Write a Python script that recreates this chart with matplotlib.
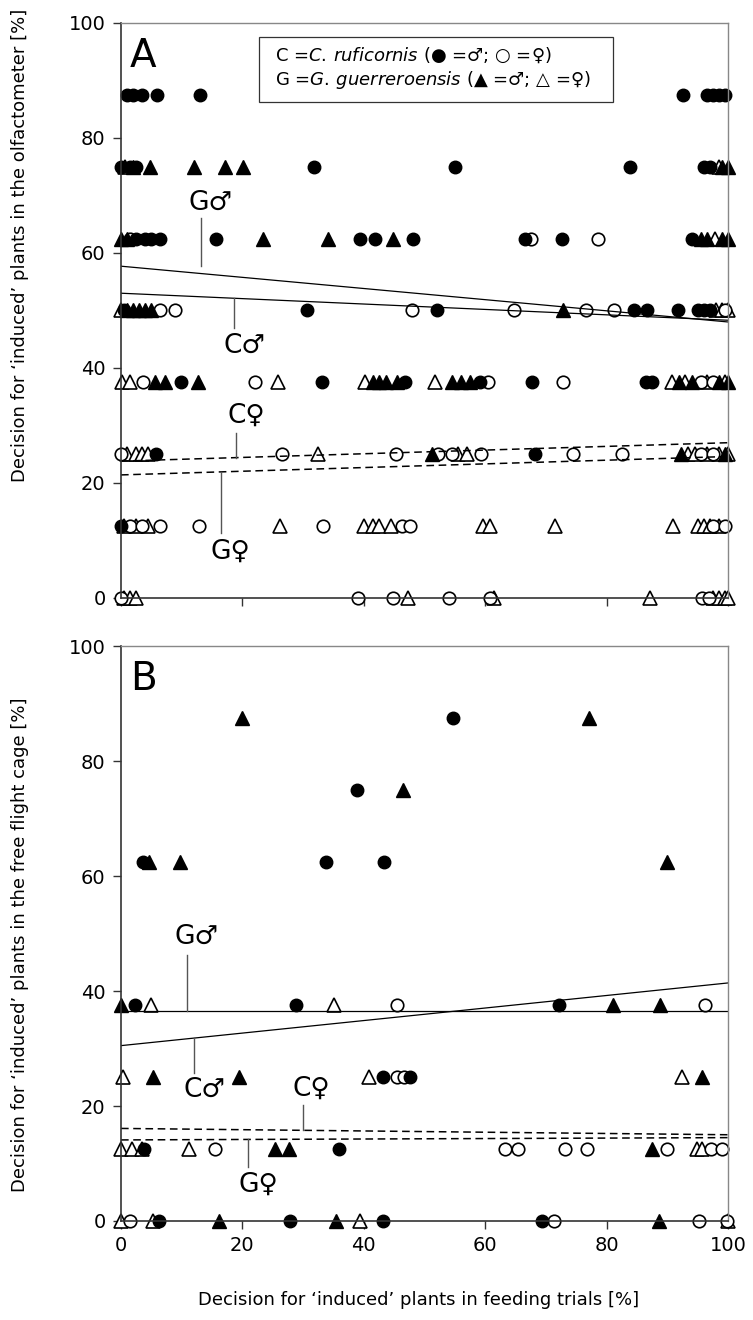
import matplotlib
matplotlib.use("Agg")
import matplotlib.pyplot as plt
from matplotlib.patches import Rectangle

# -------------------------------
# 1. Data
# -------------------------------
# Panel A: olfactometer  (x = feeding trials %, y = olfactometer %)
a_cm_x = [1, 2, 3.5, 6, 13, 92.6, 96.5, 97.5, 98.5, 99.5,
          0, 1.5, 2.5, 31.8, 55, 83.9, 96, 97,
          2.5, 4, 5, 6.5, 15.7, 39.4, 41.8, 48.1, 66.5, 72.7, 94,
          0.5, 30.6, 52, 84.5, 86.7, 91.8, 95, 96, 97,
          9.9, 33.1, 46.8, 59.1, 67.7, 86.5, 87.5,
          5.8, 68.2,
          0]
a_cm_y = [87.5] * 10 + [75] * 8 + [62.5] * 11 + [50] * 9 + [37.5] * 7 + [25] * 2 + [12.5]

a_cf_x = [1.5, 67.5, 78.6,
          6.4, 8.9, 47.9, 64.7, 76.6, 81.2, 99.5,
          3.6, 22.1, 60.5, 72.8, 95.5, 97.5,
          0, 26.5, 45.3, 52.3, 54.5, 59.3, 74.5, 82.5, 95.5, 97.5,
          1.5, 3.5, 6.4, 12.9, 33.3, 46.3, 47.6, 97.5, 99.5,
          0, 39.1, 44.8, 54.0, 60.8, 95.7, 96.8]
a_cf_y = [62.5] * 3 + [50] * 7 + [37.5] * 6 + [25] * 10 + [12.5] * 9 + [0] * 7

a_gm_x = [2, 4.8, 12.0, 17.1, 20.1, 99, 100,
          0, 1, 23.4, 34.1, 44.8, 95.5, 96.5, 99, 100,
          1, 2, 3, 4, 5, 72.8,
          5.6, 7.2, 12.7, 41.5, 42.5, 43.7, 45.5, 54.5, 56.0, 57.5, 92, 94, 98.5, 100,
          51.2, 92.2, 99.5]
a_gm_y = [75] * 7 + [62.5] * 9 + [50] * 6 + [37.5] * 14 + [25] * 3

a_gf_x = [0.7, 98.5,
          97.8,
          0, 98, 99, 100,
          0.1, 1.5, 25.9, 40.2, 51.8, 90.8, 93, 96.5, 99.5,
          1, 2.5, 3.5, 4.5, 32.5, 55.5, 57, 93.5, 94.5, 96.5, 98.5, 100,
          0.5, 2.5, 4.5, 26.2, 40, 41.5, 42.5, 44.5, 59.6, 60.8, 71.5, 90.9, 95, 96, 97, 98.5,
          0.5, 1.5, 2.5, 47.3, 61.5, 87.1, 97.5, 98.5, 99.5, 100]
a_gf_y = [75] * 2 + [62.5] + [50] * 4 + [37.5] * 9 + [25] * 12 + [12.5] * 16 + [0] * 10

# Panel B: free flight cage
b_cm_x = [54.7, 38.9, 3.6, 33.8, 43.3, 2.3, 28.8, 72.2, 43.1, 47.6, 3.8, 35.9,
          6.2, 27.9, 43.1, 69.3]
b_cm_y = [87.5, 75, 62.5, 62.5, 62.5, 37.5, 37.5, 37.5, 25, 25, 12.5, 12.5,
          0, 0, 0, 0]

b_cf_x = [45.5, 96.2, 45.5, 46.6,
          15.5, 63.2, 65.4, 73.1, 76.8, 90.0, 97.2, 99.0,
          1.4, 71.3, 95.3, 99.8]
b_cf_y = [37.5, 37.5, 25, 25] + [12.5] * 8 + [0] * 4

b_gm_x = [19.9, 77.1, 46.5, 4.6, 9.7, 90.0, 0, 81.1, 88.8, 5.2, 19.5, 95.7,
          25.4, 27.7, 87.5, 16.2, 35.5, 88.6]
b_gm_y = [87.5, 87.5, 75, 62.5, 62.5, 62.5, 37.5, 37.5, 37.5, 25, 25, 25,
          12.5, 12.5, 12.5, 0, 0, 0]

b_gf_x = [4.9, 35.1, 0.3, 40.9, 92.5, 0, 1.8, 3.4, 11.2, 94.9, 95.7, 0, 5.2, 39.3, 100]
b_gf_y = [37.5, 37.5, 25, 25, 25] + [12.5] * 6 + [0] * 4

# regression lines (value at x=0 and x=100)
trend_x = [0, 100]
a_trend = {'Gm': [57.7, 48.0], 'Cm': [53.0, 48.3], 'Cf': [23.8, 27.0], 'Gf': [21.4, 24.6]}
b_trend = {'Gm': [36.6, 36.6], 'Cm': [30.5, 41.4], 'Cf': [16.1, 15.0], 'Gf': [14.1, 14.5]}

# line labels: (letter, sex, text x, text y, leader x, leader y0, leader y1)
a_labels = [('G', '♂', 14.7, 68.7, 13.2, 57.7, 66.1),
            ('C', '♂', 20.4, 43.8, 18.6, 52.2, 47.0),
            ('C', '♀', 20.6, 31.7, 18.9, 24.4, 28.7),
            ('G', '♀', 18.0, 8.0, 16.5, 21.9, 11.3)]
b_labels = [('G', '♂', 12.5, 49.4, 10.9, 36.6, 46.3),
            ('C', '♂', 13.7, 22.8, 12.0, 31.8, 25.8),
            ('C', '♀', 31.3, 23.0, 30.0, 15.8, 20.2),
            ('G', '♀', 22.7, 6.3, 21.0, 14.2, 9.4)]

ticks = [0, 20, 40, 60, 80, 100]

# -------------------------------
# 2. Figure
# -------------------------------
plt.rcParams['font.family'] = ['DejaVu Sans']
fig = plt.figure(figsize=(7.53, 13.2), dpi=100)
ax_a = fig.add_axes([0.1607, 0.547, 0.806, 0.4356])
ax_b = fig.add_axes([0.1607, 0.075, 0.806, 0.4356])


def draw_panel(ax, cm, cf, gm, gf, trend, labels, letter):
    ax.plot(gf[0], gf[1], '^', ms=10, mfc='white', mec='black', mew=1.2, ls='none', clip_on=False)
    ax.plot(cf[0], cf[1], 'o', ms=9, mfc='white', mec='black', mew=1.2, ls='none', clip_on=False)
    ax.plot(gm[0], gm[1], '^', ms=10, mfc='black', mec='black', ls='none', clip_on=False)
    ax.plot(cm[0], cm[1], 'o', ms=9, mfc='black', mec='black', ls='none', clip_on=False)

    ax.plot(trend_x, trend['Gm'], color='black', lw=0.9)
    ax.plot(trend_x, trend['Cm'], color='black', lw=0.9)
    ax.plot(trend_x, trend['Cf'], color='black', lw=1.1, ls=(0, (5, 3)))
    ax.plot(trend_x, trend['Gf'], color='black', lw=1.1, ls=(0, (5, 3)))

    for let, sex, tx, ty, lx, ly0, ly1 in labels:
        ax.plot([lx, lx], [ly0, ly1], color='#555555', lw=1)
        ax.text(tx, ty, let + sex, fontsize=19, ha='center', va='center', color='black')

    ax.text(0.015, 0.975, letter, transform=ax.transAxes, fontsize=28,
            ha='left', va='top')

    ax.set_xlim(0, 100)
    ax.set_ylim(0, 100)
    ax.set_xticks(ticks)
    ax.set_yticks(ticks)
    for side in ['top', 'right']:
        ax.spines[side].set_color('#888888')
        ax.spines[side].set_linewidth(1)
    for side in ['left', 'bottom']:
        ax.spines[side].set_color('#333333')
        ax.spines[side].set_linewidth(1.2)
    ax.tick_params(direction='out', length=6, width=1, color='#333333',
                   labelsize=14, pad=5)


draw_panel(ax_a, (a_cm_x, a_cm_y), (a_cf_x, a_cf_y), (a_gm_x, a_gm_y), (a_gf_x, a_gf_y),
           a_trend, a_labels, 'A')
draw_panel(ax_b, (b_cm_x, b_cm_y), (b_cf_x, b_cf_y), (b_gm_x, b_gm_y), (b_gf_x, b_gf_y),
           b_trend, b_labels, 'B')
ax_a.tick_params(axis='x', labelbottom=False)

# legend box in panel A
ax_a.add_patch(Rectangle((0.227, 0.863), 0.583, 0.113, transform=ax_a.transAxes,
                         fc='white', ec='#333333', lw=0.9, zorder=5))
ax_a.text(0.254, 0.944, 'C =$\\it{C.\\,ruficornis}$ (● =♂; ○ =♀)',
          transform=ax_a.transAxes, fontsize=13, va='center', zorder=6)
ax_a.text(0.254, 0.901, 'G =$\\it{G.\\,guerreroensis}$ (▲ =♂; △ =♀)',
          transform=ax_a.transAxes, fontsize=13, va='center', zorder=6)

# axis labels
fig.text(0.027, 0.814, 'Decision for ‘induced’ plants in the olfactometer [%]',
         rotation=90, ha='center', va='center', fontsize=13)
fig.text(0.027, 0.284, 'Decision for ‘induced’ plants in the free flight cage [%]',
         rotation=90, ha='center', va='center', fontsize=13)
fig.text(0.556, 0.015, 'Decision for ‘induced’ plants in feeding trials [%]',
         ha='center', va='center', fontsize=13)

fig.savefig('out.png', dpi=100)
